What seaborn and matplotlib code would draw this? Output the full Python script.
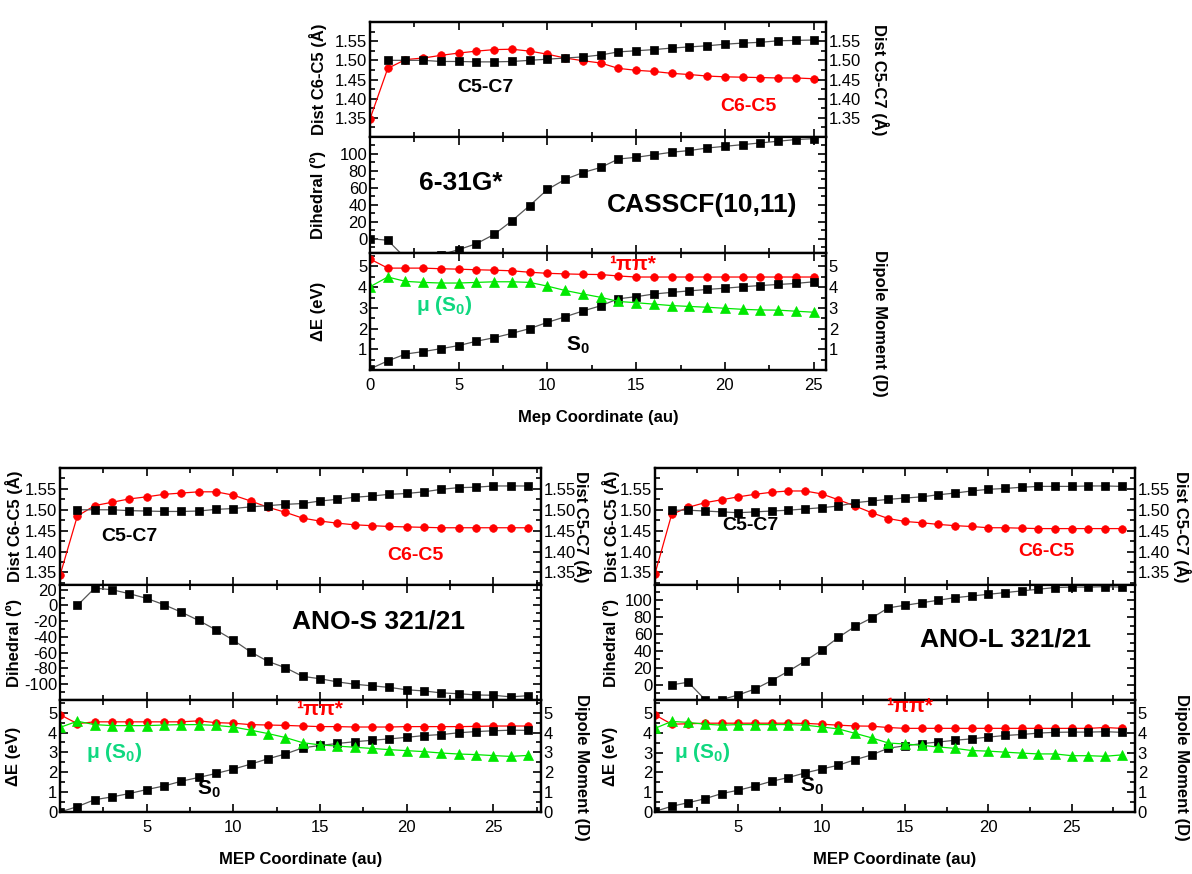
import matplotlib
matplotlib.use("Agg")
import matplotlib.pyplot as plt
from matplotlib.ticker import MultipleLocator, FixedLocator
import seaborn as sns

sns.set_theme(style="ticks")
plt.rcParams['font.family'] = ['Liberation Sans', 'DejaVu Sans']
plt.rcParams['mathtext.fontset'] = 'custom'
plt.rcParams['mathtext.rm'] = 'Liberation Sans'
plt.rcParams['mathtext.bf'] = 'Liberation Sans:bold'
plt.rcParams['axes.unicode_minus'] = False
plt.rcParams['text.color'] = 'black'
plt.rcParams['axes.labelcolor'] = 'black'

# ---------------- data: 6-31G* CASSCF(10,11) ----------------
top_x = list(range(26))
top_c6c5 = [1.347, 1.479, 1.502, 1.506, 1.513, 1.519, 1.524, 1.528, 1.529, 1.524, 1.516, 1.506, 1.499,
            1.493, 1.479, 1.474, 1.471, 1.466, 1.463, 1.459, 1.457, 1.456, 1.455, 1.454, 1.454, 1.452]
top_c5c7 = [1.500, 1.500, 1.500, 1.497, 1.497, 1.496, 1.496, 1.497, 1.500, 1.503, 1.506, 1.509,
            1.514, 1.522, 1.525, 1.528, 1.532, 1.535, 1.538, 1.542, 1.545, 1.547, 1.551, 1.552, 1.553]
top_dihedral = [0, -2, -23, -24, -19, -13, -6, 5, 21, 39, 58, 70, 78, 84, 94, 96, 99, 102, 104, 107,
                109, 111, 113, 115, 117, 118]
top_pipi = [5.36, 4.92, 4.92, 4.92, 4.89, 4.87, 4.84, 4.82, 4.79, 4.72, 4.67, 4.64, 4.62, 4.61, 4.54,
            4.49, 4.49, 4.49, 4.49, 4.49, 4.49, 4.49, 4.49, 4.49, 4.49, 4.49]
top_s0 = [0.05, 0.44, 0.77, 0.89, 1.03, 1.18, 1.39, 1.56, 1.77, 2.00, 2.30, 2.57, 2.85, 3.10, 3.44,
          3.54, 3.67, 3.75, 3.82, 3.89, 3.95, 4.02, 4.08, 4.13, 4.18, 4.26]
top_dipole = [4.02, 4.49, 4.28, 4.23, 4.20, 4.20, 4.23, 4.26, 4.26, 4.23, 4.05, 3.84, 3.67, 3.51, 3.31,
              3.25, 3.18, 3.11, 3.07, 3.03, 2.98, 2.93, 2.90, 2.89, 2.84, 2.79]

# ---------------- data: ANO-S 321/21 ----------------
anos_x = list(range(28))
anos_c6c5 = [1.343, 1.485, 1.510, 1.518, 1.526, 1.531, 1.537, 1.540, 1.543, 1.543, 1.535, 1.521, 1.506,
             1.494, 1.480, 1.473, 1.468, 1.464, 1.462, 1.460, 1.459, 1.458, 1.457, 1.457, 1.457, 1.457,
             1.457, 1.457]
anos_c5c7 = [1.500, 1.500, 1.500, 1.498, 1.497, 1.496, 1.496, 1.497, 1.501, 1.503, 1.507, 1.510, 1.513,
             1.515, 1.521, 1.525, 1.530, 1.533, 1.537, 1.539, 1.543, 1.549, 1.553, 1.554, 1.557, 1.557,
             1.557]
anos_dihedral = [0, 22, 20, 15, 9, 1, -8.5, -19, -31, -44, -59, -71, -79, -90, -93, -97, -100, -102,
                 -104, -107, -108.5, -111, -112, -113.6, -114, -116, -114.5]
anos_pipi = [4.90, 4.45, 4.54, 4.54, 4.54, 4.54, 4.54, 4.54, 4.59, 4.50, 4.47, 4.40, 4.38, 4.36, 4.33,
             4.30, 4.30, 4.28, 4.28, 4.28, 4.30, 4.30, 4.30, 4.30, 4.31, 4.33, 4.33, 4.33]
anos_s0 = [0.0, 0.27, 0.62, 0.76, 0.93, 1.13, 1.31, 1.55, 1.74, 1.94, 2.16, 2.41, 2.68, 2.92, 3.23,
           3.35, 3.45, 3.54, 3.61, 3.68, 3.76, 3.85, 3.90, 3.99, 4.05, 4.09, 4.12, 4.11]
anos_dipole = [4.26, 4.57, 4.40, 4.35, 4.35, 4.35, 4.38, 4.40, 4.40, 4.36, 4.28, 4.12, 3.95, 3.75, 3.49,
               3.38, 3.32, 3.26, 3.20, 3.14, 3.09, 3.04, 2.97, 2.92, 2.89, 2.84, 2.80, 2.85]

# ---------------- data: ANO-L 321/21 ----------------
anol_x = list(range(29))
anol_c6c5 = [1.347, 1.489, 1.506, 1.517, 1.524, 1.531, 1.537, 1.542, 1.545, 1.545, 1.538, 1.524, 1.509,
             1.493, 1.479, 1.472, 1.469, 1.465, 1.462, 1.460, 1.457, 1.457, 1.456, 1.455, 1.455, 1.455,
             1.455, 1.455, 1.455]
anol_c5c7 = [1.499, 1.499, 1.497, 1.495, 1.493, 1.495, 1.497, 1.499, 1.502, 1.505, 1.509, 1.517, 1.521,
             1.525, 1.528, 1.531, 1.536, 1.540, 1.545, 1.549, 1.551, 1.554, 1.556, 1.556, 1.556, 1.557,
             1.557, 1.556]
anol_dihedral = [0, 3, -17.5, -17.5, -12, -5, 5, 16, 28, 41, 56, 69, 79, 91, 94, 97, 100, 103, 105,
                 107, 109, 111, 113, 115, 115.5, 115.5, 116, 115.5]
anol_pipi = [4.90, 4.43, 4.45, 4.48, 4.48, 4.48, 4.48, 4.48, 4.48, 4.47, 4.43, 4.38, 4.34, 4.33, 4.26,
             4.22, 4.22, 4.22, 4.22, 4.22, 4.22, 4.22, 4.22, 4.22, 4.22, 4.22, 4.22, 4.26, 4.22]
anol_s0 = [0.03, 0.29, 0.47, 0.67, 0.93, 1.10, 1.31, 1.55, 1.74, 1.97, 2.17, 2.36, 2.64, 2.88, 3.22,
           3.34, 3.45, 3.53, 3.62, 3.69, 3.78, 3.86, 3.91, 3.98, 4.02, 4.03, 4.03, 4.05, 4.02]
anol_dipole = [4.22, 4.57, 4.52, 4.43, 4.38, 4.41, 4.41, 4.41, 4.41, 4.38, 4.29, 4.19, 3.97, 3.74, 3.48,
               3.43, 3.36, 3.28, 3.21, 3.10, 3.07, 3.02, 2.97, 2.93, 2.93, 2.84, 2.84, 2.81, 2.88]

W, H = 1192, 874
RED = '#ff0000'
GREEN = '#00e800'
MU_GREEN = '#10d880'

fig = plt.figure(figsize=(W / 100, H / 100), dpi=100)


def rect(l, r, t, b):
    return [l / W, 1 - b / H, (r - l) / W, (b - t) / H]


def style(ax, xmax, left=True, right=True):
    ax.set_xlim(0, xmax)
    ax.xaxis.set_major_locator(MultipleLocator(5))
    ax.xaxis.set_minor_locator(MultipleLocator(2.5))
    ax.tick_params(axis='both', which='both', direction='in', top=True, bottom=True,
                   left=left, right=right, labelsize=12, width=1.2, colors='black', pad=2)
    ax.tick_params(which='major', length=6)
    ax.tick_params(which='minor', length=3.5)
    ax.tick_params(axis='x', pad=6)
    for s in ax.spines.values():
        s.set_linewidth(1.6)
        s.set_color('black')
    ax.set_xlabel('')


def squares(ax, x, y):
    sns.lineplot(x=x, y=y, ax=ax, color='#555555', linewidth=0.9, marker='s', markersize=5.5,
                 markerfacecolor='black', markeredgecolor='black', markeredgewidth=0.5)


def circles(ax, x, y):
    sns.lineplot(x=x, y=y, ax=ax, color=RED, linewidth=0.9, marker='o', markersize=5.5,
                 markerfacecolor=RED, markeredgecolor=RED, markeredgewidth=0.5)


def triangles(ax, x, y):
    sns.lineplot(x=x, y=y, ax=ax, color=GREEN, linewidth=0.9, marker='^', markersize=6.5,
                 markerfacecolor=GREEN, markeredgecolor=GREEN, markeredgewidth=0.5)


def ylabel(ax, text, l, r, off_px, yfrac=0.5, right=False):
    lab = ax.set_ylabel(text, fontsize=12, fontweight='bold', color='black',
                        rotation=270 if right else 90)
    lab.set_va('center')
    lab.set_ha('center')
    lab.set_rotation_mode('default')
    ax.yaxis.set_label_coords((off_px / (r - l)) + (1 if right else 0), yfrac)


def panel(l, r, t, b1, b2, b, xmax, x, c6c5, c5c7, dih, pipi, s0, dip, dist_lim, dih_lim, dih_ticks,
          e_lim, e_ticks, x_ticks, xlabel, texts, loff, roff, xpad):
    ax1 = fig.add_axes(rect(l, r, t, b1))
    circles(ax1, x, c6c5)
    ax1.set_ylim(*dist_lim)
    ax1.yaxis.set_major_locator(FixedLocator([1.35, 1.40, 1.45, 1.50, 1.55]))
    ax1.yaxis.set_minor_locator(MultipleLocator(0.025))
    ax1.yaxis.set_major_formatter(plt.FormatStrFormatter('%.2f'))
    style(ax1, xmax, right=False)
    ax1.tick_params(labelbottom=False)
    ylabel(ax1, 'Dist C6-C5 (Å)', l, r, loff)
    ax1r = ax1.twinx()
    squares(ax1r, x[len(x) - len(c5c7):], c5c7)
    ax1r.set_ylim(*dist_lim)
    ax1r.yaxis.set_major_locator(FixedLocator([1.35, 1.40, 1.45, 1.50, 1.55]))
    ax1r.yaxis.set_minor_locator(MultipleLocator(0.025))
    ax1r.yaxis.set_major_formatter(plt.FormatStrFormatter('%.2f'))
    style(ax1r, xmax, left=False)
    ax1r.tick_params(labelbottom=False, labelright=True, labelleft=False)
    ylabel(ax1r, 'Dist C5-C7 (Å)', l, r, roff, right=True)

    ax2 = fig.add_axes(rect(l, r, b1, b2))
    squares(ax2, x[len(x) - len(dih):], dih)
    ax2.set_ylim(*dih_lim)
    ax2.yaxis.set_major_locator(FixedLocator(dih_ticks))
    ax2.yaxis.set_minor_locator(MultipleLocator(10))
    style(ax2, xmax)
    ax2.tick_params(labelbottom=False)
    ylabel(ax2, 'Dihedral (º)', l, r, loff)

    ax3 = fig.add_axes(rect(l, r, b2, b))
    circles(ax3, x, pipi)
    squares(ax3, x, s0)
    ax3.set_ylim(*e_lim)
    ax3.yaxis.set_major_locator(FixedLocator(e_ticks))
    ax3.yaxis.set_minor_locator(MultipleLocator(0.5))
    style(ax3, xmax, right=False)
    ax3.xaxis.set_major_locator(FixedLocator(x_ticks))
    ylabel(ax3, 'ΔE (eV)', l, r, loff)
    ax3.set_xlabel(xlabel, fontsize=12, fontweight='bold', color='black', labelpad=xpad)
    ax3r = ax3.twinx()
    triangles(ax3r, x, dip)
    ax3r.set_ylim(*e_lim)
    ax3r.yaxis.set_major_locator(FixedLocator(e_ticks))
    ax3r.yaxis.set_minor_locator(MultipleLocator(0.5))
    style(ax3r, xmax, left=False)
    ax3r.xaxis.set_major_locator(FixedLocator(x_ticks))
    ax3r.tick_params(labelbottom=False, labelright=True, labelleft=False)
    ylabel(ax3r, 'Dipole Moment (D)', l, r, roff, yfrac=0.4, right=True)

    t1, t2, t3 = texts
    ax1r.text(t1[0], t1[1], 'C5-C7', ha='center', va='center', fontsize=14, fontweight='bold',
              color='black')
    ax1r.text(t1[2], t1[3], 'C6-C5', ha='center', va='center', fontsize=14, fontweight='bold', color=RED)
    ax2.text(t2[0], t2[1], t2[2], ha='center', va='center', fontsize=19, fontweight='bold', color='black')
    if len(t2) > 3:
        ax2.text(t2[3], t2[4], t2[5], ha='center', va='center', fontsize=19, fontweight='bold',
                 color='black')
    ax3r.text(t3[0], t3[1], '¹ππ*', ha='center', va='center', fontsize=15, fontweight='bold', color=RED)
    ax3r.text(t3[2], t3[3], r'μ ($\mathbf{S_0}$)', ha='center', va='center', fontsize=15,
              fontweight='bold', color=MU_GREEN)
    ax3r.text(t3[4], t3[5], r'$\mathbf{S_0}$', ha='center', va='center', fontsize=15, fontweight='bold',
              color='black')


panel(370, 826, 22, 137, 253, 370, 25.7, top_x, top_c6c5, top_c5c7, top_dihedral, top_pipi, top_s0,
      top_dipole, (1.30, 1.60), (-17, 120), [0, 20, 40, 60, 80, 100], (0, 5.65), [1, 2, 3, 4, 5],
      [0, 5, 10, 15, 20, 25], 'Mep Coordinate (au)',
      [(6.5, 1.43, 21.3, 1.38), (5.1, 66, '6-31G*', 18.7, 40, 'CASSCF(10,11)'),
       (14.8, 5.1, 4.2, 3.1, 11.7, 1.2)], -52, 54, 12)

panel(60, 541, 468, 585, 700, 812, 27.75, anos_x, anos_c6c5, anos_c5c7, anos_dihedral, anos_pipi,
      anos_s0, anos_dipole, (1.32, 1.60), (-120, 26), [-100, -80, -60, -40, -20, 0, 20], (0, 5.64),
      [0, 1, 2, 3, 4, 5], [5, 10, 15, 20, 25], 'MEP Coordinate (au)',
      [(4.0, 1.435, 20.5, 1.39), (18.4, -20, 'ANO-S 321/21'), (15.0, 5.17, 3.1, 3.0, 8.6, 1.13)],
      -46, 41, 12)

panel(655, 1135, 468, 585, 700, 812, 28.8, anol_x, anol_c6c5, anol_c5c7, anol_dihedral, anol_pipi,
      anol_s0, anol_dipole, (1.32, 1.60), (-18, 118), [0, 20, 40, 60, 80, 100], (0, 5.65),
      [0, 1, 2, 3, 4, 5], [5, 10, 15, 20, 25], 'MEP Coordinate (au)',
      [(5.7, 1.462, 23.5, 1.40), (21, 53, 'ANO-L 321/21'), (15.3, 5.3, 2.8, 3.0, 9.4, 1.3)],
      -44, 47, 12)

fig.savefig('out.png', dpi=100)
